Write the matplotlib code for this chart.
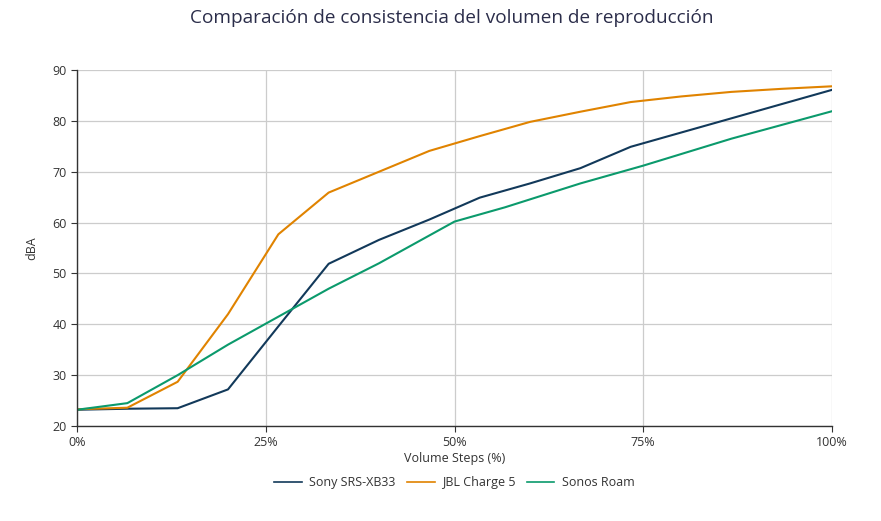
import matplotlib.pyplot as plt
from matplotlib.ticker import FuncFormatter

plt.rcParams['font.family'] = ['Open Sans', 'DejaVu Sans']

# volume steps (%) and measured dBA
sony_x = [0, 6.67, 13.33, 20, 26.67, 33.33, 40, 46.67, 53.33, 60, 66.67, 73.33, 80, 86.67, 93.33, 100]
sony_db = [23.2, 23.4, 23.5, 27.2, 39.6, 51.9, 56.6, 60.6, 64.9, 67.7, 70.7, 74.9, 77.7, 80.5, 83.3, 86.1]

jbl_x = [0, 6.67, 13.33, 20, 26.67, 33.33, 40, 46.67, 53.33, 60, 66.67, 73.33, 80, 86.67, 93.33, 100]
jbl_db = [23.3, 23.6, 28.7, 42.0, 57.7, 65.9, 70.0, 74.1, 77.0, 79.8, 81.8, 83.7, 84.8, 85.7, 86.3, 86.8]

sonos_x = [0, 6.67, 13.33, 20, 26.67, 33.33, 40, 50, 56.67, 66.67, 75, 86.67, 100]
sonos_db = [23.2, 24.5, 30.0, 36.0, 41.5, 47.0, 52.0, 60.2, 63.0, 67.7, 71.2, 76.5, 81.9]

x_ticks = [0, 25, 50, 75, 100]
y_ticks = [20, 30, 40, 50, 60, 70, 80, 90]

fig = plt.figure(figsize=(8.81, 5.21), dpi=100)
ax = fig.add_axes([0.0874, 0.1823, 0.857, 0.6833])

ax.plot(sony_x, sony_db, color='#12395a', lw=1.5, label='Sony SRS-XB33')
ax.plot(jbl_x, jbl_db, color='#e08300', lw=1.5, label='JBL Charge 5')
ax.plot(sonos_x, sonos_db, color='#0b9a6c', lw=1.5, label='Sonos Roam')

ax.set_xlim(0, 100)
ax.set_ylim(20, 90)
ax.set_xticks(x_ticks)
ax.set_yticks(y_ticks)
ax.xaxis.set_major_formatter(FuncFormatter(lambda v, p: f"{int(v)}%"))
ax.grid(True, color='#cccccc', lw=0.9)
ax.set_axisbelow(True)
for s in ['top', 'right']:
    ax.spines[s].set_visible(False)
for s in ['left', 'bottom']:
    ax.spines[s].set_color('#333333')
    ax.spines[s].set_linewidth(1.0)
ax.tick_params(colors='#333333', labelsize=9, length=4, width=0.8)

ax.set_xlabel('Volume Steps (%)', fontsize=9, color='#333333', labelpad=2)
ax.set_ylabel('dBA', fontsize=9, color='#333333', labelpad=10)

fig.suptitle('Comparación de consistencia del volumen de reproducción',
             x=0.513, y=0.982, fontsize=13.7, color='#2b2d4a')

leg = ax.legend(loc='upper center', bbox_to_anchor=(0.5, -0.11), ncol=3, frameon=False,
                fontsize=9, handlelength=2.2, columnspacing=0.9, handletextpad=0.6,
                labelcolor='#333333')
for line in leg.get_lines():
    line.set_linewidth(1.2)

fig.savefig('out.png', dpi=100)
